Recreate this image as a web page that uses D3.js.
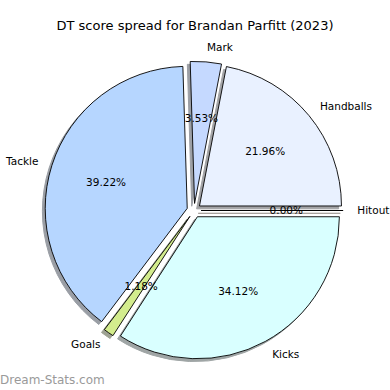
<!DOCTYPE html>
<html>
<head>
<meta charset="utf-8">
<script src="https://cdn.jsdelivr.net/npm/d3@7"></script>
<style>
  body { margin: 0; background: #fff; }
  text { font-family: "DejaVu Sans", sans-serif; }
</style>
</head>
<body>
<div id="chart"></div>
<script>
// DT points per stat (kicks x3, handballs x2, marks x3, tackles x4, goals x6, hitouts x1)
var categories = ["Handballs", "Mark", "Tackle", "Goals", "Kicks", "Hitout"];
var values     = [112, 18, 200, 6, 174, 0];
var colors     = ["#e9f1ff", "#c5d9ff", "#b6d6ff", "#d3ec8d", "#d9ffff", "#ffe0c0"];
var titleText  = "DT score spread for Brandan Parfitt (2023)";

var W = 390, H = 390;
var cx = 194, cy = 210.5;   // pie centre
var radius = 142;
var explode = 0.05 * radius;  // every wedge pulled out a bit
var shadowOff = 0.02 * radius;

var total = d3.sum(values);
var data = categories.map(function(c, i){ return {name: c, value: values[i], color: colors[i]}; });

var svg = d3.select("#chart").append("svg")
    .attr("width", W)
    .attr("height", H);

svg.append("text")
    .attr("x", W / 2)
    .attr("y", 30)
    .attr("text-anchor", "middle")
    .style("font-size", "13px")
    .attr("fill", "#000")
    .text(titleText);

// matplotlib style: start at 3 o'clock, go counter-clockwise
var pie = d3.pie()
    .value(function(d){ return d.value; })
    .sort(null)
    .startAngle(Math.PI / 2)
    .endAngle(Math.PI / 2 - 2 * Math.PI);

var arcs = pie(data);
var arc = d3.arc().innerRadius(0).outerRadius(radius);

function offset(d, dist){
    var a = (d.startAngle + d.endAngle) / 2;
    return [Math.sin(a) * dist, -Math.cos(a) * dist];
}

var g = svg.append("g").attr("transform", "translate(" + cx + "," + cy + ")");

// shadows first
g.selectAll(".shadow")
    .data(arcs)
  .enter().append("path")
    .attr("class", "shadow")
    .attr("d", arc)
    .attr("transform", function(d){
        var o = offset(d, explode);
        return "translate(" + (o[0] - shadowOff) + "," + (o[1] + shadowOff) + ")";
    })
    .attr("fill", function(d){
        var c = d3.rgb(d.data.color);
        return d3.rgb(c.r * 0.3, c.g * 0.3, c.b * 0.3);
    })
    .attr("stroke", function(d){
        var c = d3.rgb(d.data.color);
        return d3.rgb(c.r * 0.3, c.g * 0.3, c.b * 0.3);
    })
    .attr("stroke-width", 1)
    .attr("opacity", 0.5);

g.selectAll(".wedge")
    .data(arcs)
  .enter().append("path")
    .attr("class", "wedge")
    .attr("d", arc)
    .attr("transform", function(d){
        var o = offset(d, explode);
        return "translate(" + o[0] + "," + o[1] + ")";
    })
    .attr("fill", function(d){ return d.data.color; })
    .attr("stroke", "#000")
    .attr("stroke-width", 0.9)
    .attr("stroke-linejoin", "round");

// category labels at 1.1 r
g.selectAll(".label")
    .data(arcs)
  .enter().append("text")
    .attr("class", "label")
    .attr("x", function(d){ var o = offset(d, explode), p = offset(d, 1.1 * radius); return o[0] + p[0]; })
    .attr("y", function(d){ var o = offset(d, explode), p = offset(d, 1.1 * radius); return o[1] + p[1]; })
    .attr("dy", "0.35em")
    .attr("text-anchor", function(d){ var o = offset(d, explode), p = offset(d, 1.1 * radius); return (o[0] + p[0]) > 0 ? "start" : "end"; })
    .style("font-size", "10.5px")
    .text(function(d){ return d.data.name; });

// percentages at 0.6 r
g.selectAll(".pct")
    .data(arcs)
  .enter().append("text")
    .attr("class", "pct")
    .attr("x", function(d){ var o = offset(d, explode), p = offset(d, 0.6 * radius); return o[0] + p[0]; })
    .attr("y", function(d){ var o = offset(d, explode), p = offset(d, 0.6 * radius); return o[1] + p[1]; })
    .attr("dy", "0.35em")
    .attr("text-anchor", "middle")
    .style("font-size", "10.5px")
    .text(function(d){ return (d.data.value / total * 100).toFixed(2) + "%"; });

// watermark
svg.append("text")
    .attr("x", 0)
    .attr("y", 384)
    .style("font-size", "12px")
    .attr("fill", "#9a9a9a")
    .text("Dream-Stats.com");
</script>
</body>
</html>
